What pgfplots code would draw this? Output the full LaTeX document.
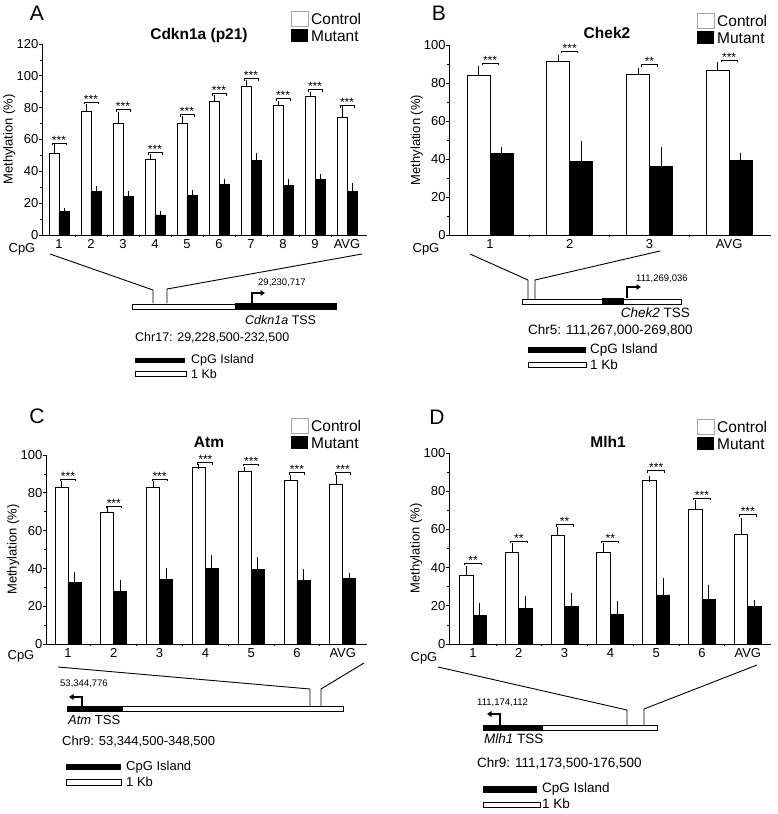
\documentclass[border=0pt]{standalone}
\usepackage{pgfplots}
\pgfplotsset{compat=1.18}
\usepackage{pgfplotstable}
\usepackage{fontspec}
\setmainfont{Liberation Sans}
\usetikzlibrary{arrows.meta}
\newcommand{\fs}[1]{\fontsize{#1bp}{#1bp}\selectfont}

\pgfdeclareplotmark{brk}{%
  \pgfpathmoveto{\pgfqpoint{-\pgfplotmarksize}{-2.2bp}}%
  \pgfpathlineto{\pgfqpoint{-\pgfplotmarksize}{0pt}}%
  \pgfpathlineto{\pgfqpoint{\pgfplotmarksize}{0pt}}%
  \pgfpathlineto{\pgfqpoint{\pgfplotmarksize}{-2.2bp}}%
  \pgfusepathqstroke}

\pgfplotstableread{
x c ce m me
0 51.1 4.6 14.9 0.6
1 77.7 3.1 27.2 1.9
2 70.2 5.8 24.3 1.7
3 47.7 1.7 12.6 1.0
4 70.4 2.5 24.9 1.7
5 84.0 2.7 32.0 1.9
6 93.6 1.9 47.1 2.9
7 81.5 1.2 31.2 2.3
8 87.1 1.1 34.8 1.8
9 73.9 5.5 27.6 3.8
}\dataA
\pgfplotstableread{
x y lab
0 57.8 ***
1 83.6 ***
2 78.7 ***
3 51.9 ***
4 75.6 ***
5 88.8 ***
6 98.2 ***
7 85.7 ***
8 91.3 ***
9 81.3 ***
}\brA

\pgfplotstableread{
x c ce m me
0 83.9 3.0 42.8 1.8
1 91.6 1.4 38.6 8.8
2 84.6 1.5 36.3 8.1
3 86.7 2.6 39.3 1.9
}\dataB
\pgfplotstableread{
x y lab
0 90.4 ***
1 96.8 ***
2 89.8 **
3 92.1 ***
}\brB

\pgfplotstableread{
x c ce m me
0 82.9 2.1 32.6 4.4
1 69.5 1.5 28.0 4.6
2 82.9 2.1 34.3 4.6
3 93.7 0.4 40.1 5.5
4 91.4 1.0 39.4 5.5
5 86.8 1.4 33.5 4.7
6 84.5 3.7 34.7 1.7
}\dataC
\pgfplotstableread{
x y lab
0 87.3 ***
1 73.1 ***
2 87.3 ***
3 96.1 ***
4 95.1 ***
5 90.7 ***
6 90.7 ***
}\brC

\pgfplotstableread{
x c ce m me
0 36.0 3.3 15.0 4.7
1 48.0 3.5 18.8 4.7
2 56.7 2.8 19.5 5.6
3 48.0 3.5 15.7 5.2
4 85.5 1.1 25.7 7.1
5 70.7 3.1 23.2 5.9
6 57.4 7.1 19.5 1.8
}\dataD
\pgfplotstableread{
x y lab
0 42.4 **
1 53.8 **
2 62.5 **
3 53.8 **
4 90.9 ***
5 76.4 ***
6 67.7 ***
}\brD

\pgfplotsset{
  meth/.style={
    anchor=south west, scale only axis,
    axis x line*=bottom, axis y line*=left,
    ymin=0, tick align=outside,
    major tick length=3bp, minor tick length=2bp,
    minor y tick num=1,
    major x tick style={draw=none},
    axis line style={line width=0.9bp},
    tick style={line width=0.8bp, black},
    ticklabel style={font=\fs{13}},
    /pgf/number format/assume math mode=true,
    ylabel={Methylation (\%)},
    ylabel style={font=\fs{13}, inner sep=0.5bp},
    yticklabel style={inner sep=0.5bp},
    xticklabel style={inner sep=1bp},
    clip=false,
  },
  ctrl/.style={ybar, bar width=#1, bar shift=-#1/2, fill=white, draw=black, line width=0.8bp},
  mut/.style={ybar, bar width=#1, bar shift=#1/2, fill=black, draw=black, line width=0.8bp},
  err/.style={draw=none, forget plot,
    error bars/.cd, y dir=plus, y explicit, error mark=-,
    error bar style={draw=black, line width=0.8bp},
    error mark options={draw=black, line width=0.8bp, mark size=#1}},
  sig/.style={only marks, mark=brk, mark size=#1, line width=0.8bp, black,
    nodes near coords, point meta=explicit symbolic,
    nodes near coords style={font=\fs{12}, anchor=south, inner sep=0pt, yshift=-1.5bp}},
}

\begin{document}
\begin{tikzpicture}
\useasboundingbox (0,0) rectangle (778bp,-814bp);

% ---------------- Panel A ----------------
\begin{axis}[meth, at={(42bp,-235bp)}, width=325bp, height=191bp,
  xmin=-0.531, xmax=9.625, ymax=120, ytick={0,20,...,120},
  xtick={0,...,9}, xticklabels={1,2,3,4,5,6,7,8,9,AVG},
  minor xtick={0.5,1.5,...,8.5}]
\addplot[ctrl=10bp] table[x=x,y=c] {\dataA};
\addplot[mut=10bp] table[x=x,y=m] {\dataA};
\addplot[err=2.5bp] table[x expr=\thisrow{x}-0.1563,y=c,y error=ce] {\dataA};
\addplot[err=2.5bp] table[x expr=\thisrow{x}+0.1563,y=m,y error=me] {\dataA};
\addplot[sig=7bp] table[x=x,y=y,meta=lab] {\brA};
\end{axis}

% ---------------- Panel B ----------------
\begin{axis}[meth, at={(449.3bp,-235bp)}, width=322bp, height=190bp,
  xmin=-0.511, xmax=3.529, ymax=100, ytick={0,20,...,100},
  xtick={0,...,3}, xticklabels={1,2,3,AVG},
  minor xtick={0.5,1.5,2.5}]
\addplot[ctrl=23bp] table[x=x,y=c] {\dataB};
\addplot[mut=23bp] table[x=x,y=m] {\dataB};
\addplot[err=3.5bp] table[x expr=\thisrow{x}-0.1443,y=c,y error=ce] {\dataB};
\addplot[err=3.5bp] table[x expr=\thisrow{x}+0.1443,y=m,y error=me] {\dataB};
\addplot[sig=8bp] table[x=x,y=y,meta=lab] {\brB};
\end{axis}

% ---------------- Panel C ----------------
\begin{axis}[meth, at={(46bp,-644.3bp)}, width=321bp, height=189.3bp,
  xmin=-0.480, xmax=6.529, ymax=100, ytick={0,20,...,100},
  xtick={0,...,6}, xticklabels={1,2,3,4,5,6,AVG},
  minor xtick={0.5,1.5,...,5.5}]
\addplot[ctrl=13bp] table[x=x,y=c] {\dataC};
\addplot[mut=13bp] table[x=x,y=m] {\dataC};
\addplot[err=2.5bp] table[x expr=\thisrow{x}-0.1419,y=c,y error=ce] {\dataC};
\addplot[err=2.5bp] table[x expr=\thisrow{x}+0.1419,y=m,y error=me] {\dataC};
\addplot[sig=7.5bp] table[x=x,y=y,meta=lab] {\brC};
\end{axis}

% ---------------- Panel D ----------------
\begin{axis}[meth, at={(449bp,-644bp)}, width=322bp, height=191bp,
  xmin=-0.524, xmax=6.507, ymax=100, ytick={0,20,...,100},
  xtick={0,...,6}, xticklabels={1,2,3,4,5,6,AVG},
  minor xtick={0.5,1.5,...,5.5}]
\addplot[ctrl=13.5bp] table[x=x,y=c] {\dataD};
\addplot[mut=13.5bp] table[x=x,y=m] {\dataD};
\addplot[err=3bp] table[x expr=\thisrow{x}-0.1474,y=c,y error=ce] {\dataD};
\addplot[err=3bp] table[x expr=\thisrow{x}+0.1474,y=m,y error=me] {\dataD};
\addplot[sig=8.5bp] table[x=x,y=y,meta=lab] {\brD};
\end{axis}

\begin{scope}[x=1bp, y=-1bp]
% panel letters
\node[font=\fs{21}] at (37,13) {A};
\node[font=\fs{21}] at (439,13) {B};
\node[font=\fs{21}] at (37,416) {C};
\node[font=\fs{21}] at (437,417) {D};
% titles
\node[font=\fs{15.5}\bfseries] at (199,35) {Cdkn1a (p21)};
\node[font=\fs{15.5}\bfseries] at (607,33) {Chek2};
\node[font=\fs{15.5}\bfseries] at (209,442) {Atm};
\node[font=\fs{15.5}\bfseries] at (608,442) {Mlh1};
% legends
\foreach \lx/\ly in {291/11, 697/13, 291/418, 697/419}{
  \draw[gray!70, line width=0.7bp, fill=white] (\lx,\ly) rectangle ++(17,15);
  \fill[black] (\lx,\ly+18) rectangle ++(17,13);
  \node[font=\fs{15.5}, anchor=west, inner sep=0pt] at (\lx+20,\ly+8) {Control};
  \node[font=\fs{15.5}, anchor=west, inner sep=0pt] at (\lx+20,\ly+25) {Mutant};
}
% CpG labels
\node[font=\fs{13}] at (22,249) {CpG};
\node[font=\fs{13}] at (426,249) {CpG};
\node[font=\fs{13}] at (21,656) {CpG};
\node[font=\fs{13}] at (424,658) {CpG};

% ---- diagram A ----
\draw[line width=0.9bp] (50,254) -- (153,290) -- (153,303);
\draw[line width=0.9bp] (362,254) -- (167,289) -- (167,303);
\draw[line width=0.5bp, fill=white] (132,304) rectangle (235,309);
\fill (235,303) rectangle (337,310);
\draw[line width=1.6bp, -{Triangle[length=4.5bp,width=5.5bp]}] (252,303) -- (252,293) -- (265,293);
\node[font=\fs{9.5}, anchor=west, inner sep=0pt] at (258,283) {29,230,717};
\node[font=\fs{12.5}, anchor=west, inner sep=0pt] at (245,320) {\textit{Cdkn1a} TSS};
\node[font=\fs{12.5}, anchor=west, inner sep=0pt] at (135,338) {Chr17: 29,228,500-232,500};
\fill (135,358) rectangle (185,363);
\node[font=\fs{12.5}, anchor=west, inner sep=0pt] at (191,360) {CpG Island};
\draw[line width=0.5bp, fill=white] (135,371) rectangle (186,376);
\node[font=\fs{12.5}, anchor=west, inner sep=0pt] at (191,374) {1 Kb};

% ---- diagram B ----
\draw[line width=0.9bp] (470,254) -- (528,280) -- (528,299);
\draw[line width=0.9bp] (660,251) -- (535,280) -- (535,299);
\draw[line width=0.5bp, fill=white] (522,299) rectangle (681,304);
\fill (602,298) rectangle (624,305);
\draw[line width=1.6bp, -{Triangle[length=4.5bp,width=5.5bp]}] (627,298) -- (627,287) -- (641,287);
\node[font=\fs{9.5}, anchor=west, inner sep=0pt] at (636,279) {111,269,036};
\node[font=\fs{13.5}, anchor=east, inner sep=0pt] at (690,313) {\textit{Chek2} TSS};
\node[font=\fs{13.5}, anchor=west, inner sep=0pt] at (528,330) {Chr5: 111,267,000-269,800};
\fill (528,347) rectangle (586,353);
\node[font=\fs{13.5}, anchor=west, inner sep=0pt] at (590,350) {CpG Island};
\draw[line width=0.5bp, fill=white] (528,362) rectangle (586,367);
\node[font=\fs{13.5}, anchor=west, inner sep=0pt] at (590,365) {1 Kb};

% ---- diagram C ----
\draw[line width=0.9bp] (58,667) -- (310,689) -- (310,706);
\draw[line width=0.9bp] (364,663) -- (321,689) -- (321,706);
\draw[line width=0.5bp, fill=white] (122,706) rectangle (343,711);
\fill (67,706) rectangle (122,712);
\draw[line width=1.6bp, -{Triangle[length=4.5bp,width=5.5bp]}] (82,706) -- (82,697) -- (69,697);
\node[font=\fs{9.5}, anchor=west, inner sep=0pt] at (60,684) {53,344,776};
\node[font=\fs{13}, anchor=west, inner sep=0pt] at (68,720) {\textit{Atm} TSS};
\node[font=\fs{13}, anchor=west, inner sep=0pt] at (62,742) {Chr9: 53,344,500-348,500};
\fill (66,764) rectangle (121,770);
\node[font=\fs{13}, anchor=west, inner sep=0pt] at (126,767) {CpG Island};
\draw[line width=0.5bp, fill=white] (66,779) rectangle (121,785);
\node[font=\fs{13}, anchor=west, inner sep=0pt] at (126,782) {1 Kb};

% ---- diagram D ----
\draw[line width=0.9bp] (438,667) -- (627,710) -- (627,725);
\draw[line width=0.9bp] (757,665) -- (644,709) -- (644,725);
\draw[line width=0.5bp, fill=white] (542,725) rectangle (657,730);
\fill (483,725) rectangle (542,731);
\draw[line width=1.6bp, -{Triangle[length=4.5bp,width=5.5bp]}] (500,725) -- (500,714) -- (487,714);
\node[font=\fs{9.5}, anchor=west, inner sep=0pt] at (477,703) {111,174,112};
\node[font=\fs{13.5}, anchor=west, inner sep=0pt] at (484,739) {\textit{Mlh1} TSS};
\node[font=\fs{13.5}, anchor=west, inner sep=0pt] at (477,763) {Chr9: 111,173,500-176,500};
\fill (483,786) rectangle (537,793);
\node[font=\fs{13.5}, anchor=west, inner sep=0pt] at (542,789) {CpG Island};
\draw[line width=0.5bp, fill=white] (483,802) rectangle (540,807);
\node[font=\fs{13.5}, anchor=west, inner sep=0pt] at (542,804) {1 Kb};
\end{scope}
\end{tikzpicture}
\end{document}
